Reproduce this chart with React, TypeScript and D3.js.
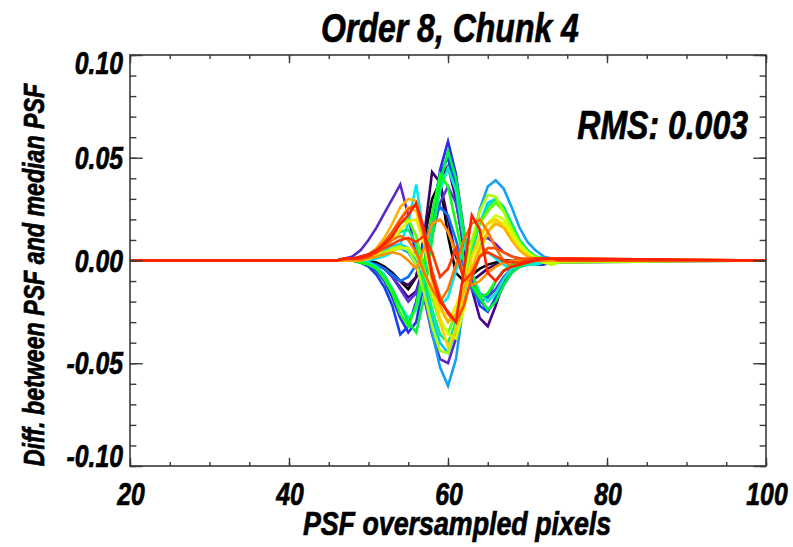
import React, { useRef, useEffect } from 'react';
import * as d3 from 'd3';

// PSF oversampled pixel positions (x) where the curves are sampled
const xs = [20, 46, 47, 48, 49, 50, 51, 52, 53, 54, 55, 56, 57, 58, 59, 60, 61, 62, 63, 64, 65, 66, 67, 68, 69, 70, 71, 72, 73, 74, 100];

// differences (PSF - median PSF), in units of 1e-3
const UNIT = 1e-3;
const s00 = [0, 0, 0, 0, 0, 0, -1, -3, -6, -10, -14, -8, 10, 30, 38, 12, -6, -10, -7, -4, -2, -1, 0, 0, 0, 0, 0, 0, 0, 0, 0];
const s01 = [0, 0, 0, 0, 0, -1, -2, -4, -7, -10, -12, -8, 12, 43, 38, 20, 2, -8, -10, -7, -4, -2, -1, 0, 0, 0, 0, 0, 0, 0, 0];
const s02 = [0, 0, 0, 0, 0, -1, -2, -4, -8, -13, -18, -15, -2, 20, 40, 46, 30, 5, -14, -28, -32, -22, -10, -4, -2, -1, 0, 0, 0, 0, 0];
const s03 = [0, 0, 1, 2, 5, 10, 16, 23, 30, 37, 22, 2, -18, -36, -48, -50, -38, -14, 4, 10, 11, 8, 4, 2, 1, 0, 0, 0, 0, 0, 0];
const s04 = [0, 0, 0, 0, 0, -1, -2, -4, -8, -14, -20, -16, -4, 12, 28, 36, 28, 8, -8, -16, -18, -14, -8, -4, -2, -1, 0, 0, 0, 0, 0];
const s05 = [0, 0, 0, 0, -1, -2, -5, -10, -18, -28, -35, -30, -10, 18, 44, 58, 42, 14, -8, -19, -24, -20, -12, -6, -3, -2, -2, -2, -1, -1, 0];
const s06 = [0, 0, 0, 0, -1, -3, -7, -13, -22, -36, -32, -20, -2, 22, 42, 50, 36, 10, -10, -22, -25, -18, -10, -5, -2, -1, -1, -1, 0, 0, 0];
const s07 = [0, 0, 0, 0, 0, -1, -2, -4, -7, -10, -8, -2, 8, 20, 26, 22, 10, -4, -14, -20, -18, -10, -5, -3, -3, -2, -2, -1, -1, 0, 0];
const s08 = [0, 0, 0, 0, 1, 2, 3, 4, 5, 6, 4, -2, -15, -35, -52, -61, -48, -20, 6, 25, 36, 39, 35, 26, 16, 9, 5, 2, 1, 0, 0];
const s09 = [0, 0, 0, 0, 1, 2, 3, 5, 7, 8, 6, 0, -12, -28, -40, -45, -34, -14, 4, 18, 28, 30, 26, 18, 10, 5, 2, 1, 0, 0, 0];
const s10 = [0, 0, 0, 0, 0, 0, 1, 2, 4, 8, 18, 37, 12, -10, -22, -18, -5, 6, 10, 8, 4, 1, -2, -4, -3, -2, -1, 0, 0, 0, 0];
const s11 = [0, 0, 0, 0, 0, -1, -3, -7, -14, -22, -28, -24, -8, 14, 34, 45, 34, 10, -6, -16, -20, -16, -9, -4, -3, -2, -2, -1, 0, 0, 0];
const s12 = [0, 0, 0, 0, 1, 2, 4, 7, 11, 14, 15, 8, -8, -24, -36, -40, -30, -12, 6, 18, 26, 30, 26, 18, 10, 5, 2, 1, 0, 0, 0];
const s13 = [0, 0, 0, 0, -1, -2, -4, -8, -14, -22, -30, -35, -18, 10, 38, 53, 40, 14, -6, -18, -24, -20, -12, -6, -3, -1, 0, 0, 0, 0, 0];
const s14 = [0, 0, 0, 0, -1, -2, -4, -9, -16, -26, -32, -22, -2, 22, 42, 36, 18, 0, -12, -18, -16, -10, -5, -2, -1, 0, 0, 0, 0, 0, 0];
const s15 = [0, 0, 0, 0, 1, 2, 4, 8, 13, 18, 20, 12, -4, -18, -30, -35, -26, -8, 8, 18, 24, 28, 24, 16, 9, 4, 2, 1, 0, 0, 0];
const s16 = [0, 0, 0, 0, 0, 1, 2, 4, 6, 7, 5, -2, -16, -32, -44, -45, -32, -10, 10, 24, 32, 31, 24, 15, 8, 4, 1, -1, -2, -1, 0];
const s17 = [0, 0, 0, 0, 0, 1, 2, 3, 5, 6, 6, 2, -6, -16, -28, -36, -38, -24, -4, 10, 18, 22, 20, 14, 8, 4, 1, -1, -1, 0, 0];
const s18 = [0, 0, 0, 0, 0, 1, 3, 6, 10, 15, 19, 20, 8, -10, -24, -30, -22, -12, -6, 4, 14, 20, 18, 12, 6, 3, 1, 0, 0, 0, 0];
const s19 = [0, 0, 0, 0, 1, 2, 4, 8, 14, 20, 26, 24, 10, -10, -30, -42, -34, -16, 2, 12, 18, 20, 16, 10, 5, 2, 1, 0, 0, 0, 0];
const s20 = [0, 0, 1, 1, 1, 3, 6, 11, 18, 26, 30, 29, 14, -6, -22, -30, -26, -14, -4, 6, 14, 18, 16, 10, 5, 2, 1, 0, 0, 0, 0];
const s21 = [0, 0, 0, 0, 0, 1, 2, 3, 4, 3, 0, -4, 6, 18, 20, 14, 4, -6, -12, -10, -6, -3, -1, 0, 0, 0, 0, 0, 0, 0, 0];
const s22 = [0, 0, 1, 1, 1, 2, 4, 7, 10, 12, 10, 4, -6, -14, -20, -14, -2, 10, 18, 20, 14, 6, 0, -3, -2, -1, 0, 0, 1, 1, 0];
const s23 = [0, 0, 1, 1, 1, 2, 5, 9, 14, 20, 25, 27, 12, -5, -18, -26, -30, -22, -8, 2, 6, 6, 4, 2, 1, 1, 1, 1, 1, 1, 0];
const s24 = [0, 0, 1, 1, 1, 2, 4, 6, 8, 10, 11, 9, 12, 4, -8, -4, 6, -10, -6, 2, 4, 2, 0, -1, -1, 0, 1, 1, 1, 0, 0];
const s25 = [0, 0, 1, 1, 2, 3, 5, 8, 12, 18, 22, 28, 15, -8, -20, -25, -30, -5, 22, 15, -6, -10, -5, -3, -2, -1, 0, 1, 1, 1, 0];

const series = [s00, s01, s02, s03, s04, s05, s06, s07, s08, s09, s10, s11, s12, s13, s14, s15, s16, s17, s18, s19, s20, s21, s22, s23, s24, s25];
const colors = [
  '#000000', '#3a0060', '#4a0090', '#5a28c8', '#5535d8', '#2a2ae8', '#1040f0', '#0a70f5', '#14a0f5', '#00c8f8',
  '#00e8f0', '#00f0c0', '#00f080', '#00f040', '#10ff10', '#60ff00', '#a8ff00', '#d0ff00', '#f0f000', '#ffd000',
  '#ffb000', '#ff9000', '#ff7000', '#ff5000', '#ff3800', '#ff2000',
];

const xTicks = [20, 40, 60, 80, 100];
const yTicks = [0.1, 0.05, 0, -0.05, -0.1];
const yTickLabels = ['0.10', '0.05', '0.00', '-0.05', '-0.10'];

const FONT = "'Liberation Sans', Arial, sans-serif";
const SQUEEZE = 0.8; // condensed look of the original bold italic font

const App = () => {
  const ref = useRef<SVGSVGElement>(null);

  useEffect(() => {
    const svg = d3.select(ref.current);
    svg.selectAll('*').remove();

    const left = 130, right = 766, top = 55, bottom = 466;
    const x = d3.scaleLinear().domain([20, 100]).range([left, right]);
    const y = d3.scaleLinear().domain([-0.1, 0.1]).range([bottom, top]);

    const line = d3
      .line<number>()
      .x((d, i) => x(xs[i]))
      .y((d) => y(d * UNIT));

    const clip = svg.append('clipPath').attr('id', 'plot');
    clip.append('rect').attr('x', left).attr('y', top).attr('width', right - left).attr('height', bottom - top);

    svg
      .append('g')
      .attr('clip-path', 'url(#plot)')
      .selectAll('path')
      .data(series)
      .enter()
      .append('path')
      .attr('d', (d) => line(d))
      .attr('fill', 'none')
      .attr('stroke', (d, i) => colors[i])
      .attr('stroke-width', 2.6)
      .attr('stroke-linejoin', 'miter');

    const axisColor = '#3a3a3a';
    const xLen = 0.02 * (bottom - top);
    const yLen = 0.02 * (right - left);
    const xMinor = d3.range(20, 101, 5);
    const yMinor = d3.range(-0.1, 0.1001, 0.01);

    const addAxis = (axis: any, tx: number, ty: number) => {
      const g = svg.append('g').attr('transform', `translate(${tx},${ty})`).call(axis);
      g.select('.domain').remove();
      g.selectAll('line').attr('stroke', axisColor).attr('stroke-width', 1.4);
    };

    addAxis(d3.axisBottom(x).tickValues(xTicks).tickSize(-xLen).tickFormat(() => ''), 0, bottom);
    addAxis(d3.axisBottom(x).tickValues(xMinor).tickSize(-xLen / 2).tickFormat(() => ''), 0, bottom);
    addAxis(d3.axisTop(x).tickValues(xTicks).tickSize(-xLen).tickFormat(() => ''), 0, top);
    addAxis(d3.axisTop(x).tickValues(xMinor).tickSize(-xLen / 2).tickFormat(() => ''), 0, top);
    addAxis(d3.axisLeft(y).tickValues(yTicks).tickSize(-yLen).tickFormat(() => ''), left, 0);
    addAxis(d3.axisLeft(y).tickValues(yMinor).tickSize(-yLen / 2).tickFormat(() => ''), left, 0);
    addAxis(d3.axisRight(y).tickValues(yTicks).tickSize(-yLen).tickFormat(() => ''), right, 0);
    addAxis(d3.axisRight(y).tickValues(yMinor).tickSize(-yLen / 2).tickFormat(() => ''), right, 0);

    svg
      .append('rect')
      .attr('x', left)
      .attr('y', top)
      .attr('width', right - left)
      .attr('height', bottom - top)
      .attr('fill', 'none')
      .attr('stroke', axisColor)
      .attr('stroke-width', 1.6);

    const txt = (tx: number, ty: number, size: number, anchor: string, label: string, rotate = 0) =>
      svg
        .append('text')
        .attr('transform', `translate(${tx},${ty}) rotate(${rotate}) scale(${SQUEEZE},1)`)
        .attr('font-family', FONT)
        .attr('font-weight', 'bold')
        .attr('font-style', 'italic')
        .attr('font-size', size)
        .attr('text-anchor', anchor)
        .attr('fill', '#000')
        .attr('stroke', '#000')
        .attr('stroke-width', 0.7)
        .text(label);

    xTicks.forEach((t) => txt(x(t) + 1, 505, 31, 'middle', String(t)));

    // end labels sit slightly inside the frame, as in the original
    yTicks.forEach((t, i) => {
      const cy = Math.min(Math.max(y(t), top + 8), bottom - 10);
      txt(123, cy + 11, 31, 'end', yTickLabels[i]);
    });

    txt(450, 42, 40, 'middle', 'Order 8, Chunk 4');
    txt(748, 139, 40, 'end', 'RMS: 0.003');
    txt(457, 535, 33.5, 'middle', 'PSF oversampled pixels');
    txt(44, 275, 29, 'middle', 'Diff. between PSF and median PSF', -90);
  }, []);

  return (
    <svg
      ref={ref}
      width={793}
      height={547}
      style={{ position: 'absolute', left: 0, top: 0, background: '#fff' }}
    />
  );
};

export default App;
